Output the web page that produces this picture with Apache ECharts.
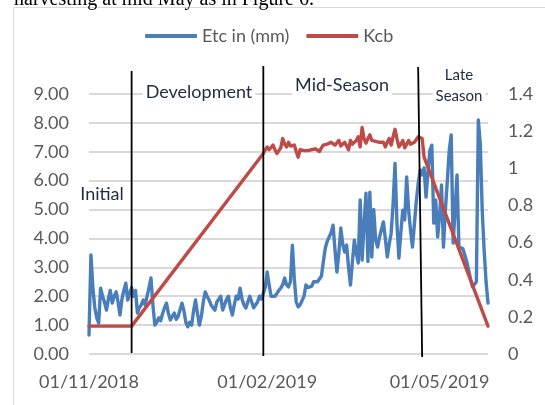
<!DOCTYPE html>
<html><head><meta charset="utf-8">
<script src="https://cdn.jsdelivr.net/npm/echarts@6/dist/echarts.min.js"></script>
<style>html,body{margin:0;padding:0;background:#fff}#c{width:545px;height:405px}</style>
</head><body><div id="c"></div><script>
// ---- data ----
const startYear = 2018, startMonth = 11, startDay = 1;
const tickLabels = ['01/11/2018', '01/02/2019', '01/05/2019'];
const seriesNames = ['Etc in (mm)', 'Kcb'];
// daily crop evapotranspiration (mm), 01/11/2018 onwards
const etc = [
  0.66,3.43,2.3,1.6,1.25,1.07,2.28,2.0,1.8,1.52,
  1.9,2.2,1.76,2.0,2.15,1.8,1.35,1.9,2.2,2.45,
  1.87,2.1,2.3,2.0,2.2,1.42,1.6,1.7,1.87,1.7,
  2.0,2.3,2.63,1.7,1.0,1.1,1.25,1.15,1.4,1.6,
  1.76,1.4,1.18,1.3,1.42,1.2,1.3,1.25,1.76,1.5,
  1.1,0.94,1.1,1.0,1.5,1.87,1.4,1.0,1.3,1.8,
  2.15,2.0,1.87,1.7,1.6,1.52,1.8,1.9,2.0,1.52,
  1.7,1.9,2.0,1.6,1.35,1.7,2.0,1.9,2.28,1.9,
  1.7,1.59,1.8,2.0,1.8,1.6,1.59,1.8,2.0,1.9,
  1.87,2.3,2.84,2.4,2.0,2.05,2.0,2.1,2.2,2.28,
  2.4,2.63,2.4,2.32,2.5,3.77,2.6,1.8,1.63,1.7,
  1.76,2.0,2.39,2.3,2.28,2.35,2.5,2.56,2.5,2.45,
  2.7,3.2,3.67,3.9,4.05,4.2,4.46,3.6,2.84,3.5,
  4.36,3.8,3.53,3.77,3.0,2.39,3.2,3.94,3.5,3.15,
  5.33,3.25,4.5,5.57,3.2,5.6,3.36,5.0,3.94,3.7,
  4.05,4.0,4.57,4.0,3.36,3.8,4.19,5.2,6.6,4.5,
  3.32,4.2,4.98,4.64,6.13,5.0,4.29,3.7,4.5,5.3,
  5.92,6.37,6.2,6.44,5.43,6.3,7.06,7.23,4.53,5.33,
  4.05,4.8,5.85,3.7,4.98,6.0,7.06,7.58,3.84,5.0,
  6.2,3.7,3.7,3.65,3.6,3.2,2.9,2.6,2.32,2.3,
  2.5,8.1,7.3,5.0,3.6,2.5,1.76
];
// basal crop coefficient: day index (from 01/11/2018) and value
const kcbDays = [
  0,22,
  90,91,92,93,94,95,96,97,98,99,100,101,102,103,104,105,106,107,108,109,
  110,111,112,113,114,115,116,117,118,119,120,121,122,123,124,125,126,127,128,129,
  130,131,132,133,134,135,136,137,138,139,140,141,142,143,144,145,146,147,148,149,
  150,151,152,153,154,155,156,157,158,159,160,161,162,163,164,165,166,167,168,169,
  170,171,172,173,
  206
];
const kcbValues = [
  0.15,0.15,
  1.08,1.10,1.115,1.10,1.09,1.125,1.10,1.08,1.09,1.11,1.16,1.13,1.115,1.14,1.12,1.11,1.125,1.09,1.06,1.10,
  1.10,1.095,1.10,1.095,1.10,1.10,1.10,1.105,1.10,1.09,1.11,1.125,1.12,1.13,1.12,1.14,1.14,1.125,1.13,1.15,
  1.12,1.115,1.14,1.12,1.10,1.15,1.13,1.125,1.15,1.17,1.115,1.22,1.16,1.135,1.16,1.18,1.15,1.14,1.145,1.14,
  1.14,1.145,1.14,1.115,1.14,1.16,1.125,1.17,1.21,1.16,1.115,1.13,1.15,1.11,1.13,1.15,1.13,1.12,1.14,1.15,
  1.17,1.16,1.16,1.06,
  0.15
];
const stageBoundaryDays = [22, 90, 172];
const stageNames = ['Initial', 'Development', 'Mid-Season', 'Late\nSeason'];
const headerText = 'harvesting at mid May as in Figure 6.';

// ---- build ----
function pad(n){ return (n < 10 ? '0' : '') + n; }
const dates = etc.map((_, i) => {
  const d = new Date(Date.UTC(startYear, startMonth - 1, startDay + i));
  return pad(d.getUTCDate()) + '/' + pad(d.getUTCMonth() + 1) + '/' + d.getUTCFullYear();
});
const kcbData = kcbDays.map((d, i) => [d, kcbValues[i]]);

const FONT = 'Lato';
const GREY = '#595959';
const BLUE = '#4a7ebb', RED = '#be4b48';
const chart = echarts.init(document.getElementById('c'), null, {renderer: 'canvas'});
chart.setOption({
  animation: false,
  backgroundColor: '#fff',
  textStyle: {fontFamily: FONT},
  grid: {left: 89, right: 57, top: 94, bottom: 51, containLabel: false},
  legend: {
    data: seriesNames, left: 140, top: 22, itemWidth: 52, itemHeight: 4, itemGap: 17,
    icon: 'roundRect',
    textStyle: {fontFamily: FONT, fontSize: 18, color: GREY}
  },
  xAxis: {
    type: 'category', data: dates, boundaryGap: false,
    axisLine: {show: false}, axisTick: {show: false}, splitLine: {show: false},
    axisLabel: {
      interval: (idx, val) => tickLabels.indexOf(val) >= 0,
      hideOverlap: false, fontSize: 18, color: GREY, margin: 19, fontFamily: FONT
    }
  },
  yAxis: [
    {type: 'value', min: 0, max: 9, interval: 1,
     axisLine: {show: false}, axisTick: {show: false},
     splitLine: {lineStyle: {color: '#d9d9d9', width: 2}},
     axisLabel: {formatter: v => v.toFixed(2), fontSize: 18, color: GREY, margin: 20, fontFamily: FONT}},
    {type: 'value', min: 0, max: 1.4, interval: 0.2, position: 'right',
     axisLine: {show: false}, axisTick: {show: false}, splitLine: {show: false},
     axisLabel: {formatter: v => String(+v.toFixed(1)), fontSize: 18, color: GREY, margin: 20, fontFamily: FONT}}
  ],
  series: [
    {name: seriesNames[0], type: 'line', data: etc, symbol: 'none', yAxisIndex: 0,
     lineStyle: {color: BLUE, width: 3.4, join: 'round', cap: 'round'}, itemStyle: {color: BLUE}, z: 2},
    {name: seriesNames[1], type: 'line', data: kcbData, symbol: 'none', yAxisIndex: 1,
     lineStyle: {color: RED, width: 3.4, join: 'round', cap: 'round'}, itemStyle: {color: RED}, z: 3}
  ]
});

// annotation layer: stage boundaries placed via the axis scale
const lineExt = [ {top: 71, bottom: 353, dxTop: 0}, {top: 66, bottom: 356, dxTop: 0}, {top: 67, bottom: 357, dxTop: -4} ];
const graphics = [];
graphics.push({type: 'rect', silent: true, z: 0,
  shape: {x: 13.5, y: 7.5, width: 700, height: 600},
  style: {fill: null, stroke: '#d9d9d9', lineWidth: 1}});
graphics.push({type: 'text', silent: true, z: 10,
  style: {text: headerText, x: 14, y: 10, verticalAlign: 'bottom', fontFamily: 'Liberation Serif', fontSize: 20, fill: '#000'}});
stageBoundaryDays.forEach((d, i) => {
  const px = chart.convertToPixel({xAxisIndex: 0}, dates[d]);
  graphics.push({type: 'line', silent: true, z: 20,
    shape: {x1: px + lineExt[i].dxTop, y1: lineExt[i].top, x2: px, y2: lineExt[i].bottom},
    style: {stroke: '#000', lineWidth: 1.8}});
});
const labelPos = [
  {x: 102, y: 194, size: 18, lh: 22},
  {x: 199, y: 92, size: 18, lh: 22},
  {x: 342, y: 85, size: 18, lh: 22},
  {x: 459, y: 86, size: 15, lh: 21}
];
stageNames.forEach((name, i) => {
  const p = labelPos[i];
  graphics.push({type: 'text', silent: true, z: 25,
    style: {text: name, x: p.x, y: p.y, align: 'center', verticalAlign: 'middle',
      fontFamily: FONT, fontSize: p.size, lineHeight: p.lh, fill: '#1f2b40',
      backgroundColor: '#fff', padding: [1, 3]}});
});
chart.setOption({graphic: {elements: graphics}});
</script></body></html>
